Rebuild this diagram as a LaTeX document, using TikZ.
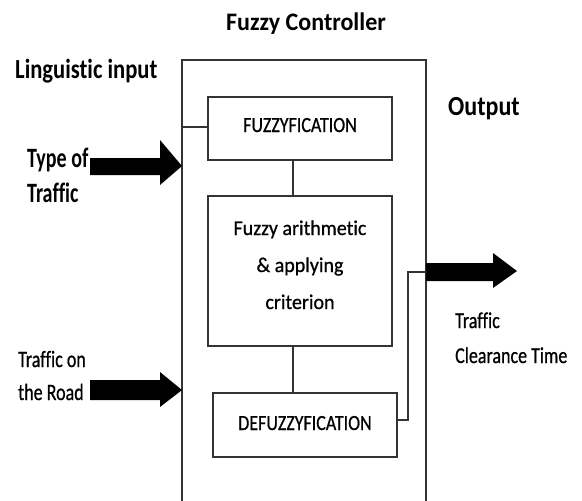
\documentclass[tikz,border=0pt]{standalone}
\usepackage{fontspec}
\setmainfont[RawFeature=-liga]{Carlito}
\newfontfamily\medf[RawFeature=-liga,FakeBold=0.8]{Carlito}
\newcommand{\vs}[2]{\scalebox{1}[#1]{#2}}
\begin{document}
\begin{tikzpicture}[x=1pt,y=-1pt,
  line/.style={draw=black!80,line width=1.8pt},
  blk/.style={draw=black!80,line width=1.8pt,fill=white},
  btitle/.style={font=\bfseries\fontsize{24}{28}\selectfont,inner sep=0pt},
  lbl/.style={font=\medf\fontsize{18}{20}\selectfont,inner sep=0pt},
  inlbl/.style={font=\bfseries\fontsize{20}{24}\selectfont,inner sep=0pt},
  boxtxt/.style={font=\medf\fontsize{18}{20}\selectfont,inner sep=0pt},
  artxt/.style={font=\medf\fontsize{20}{24}\selectfont,inner sep=0pt,anchor=base},
  arr/.style={fill=black}]
\useasboundingbox (0,0) rectangle (582,501);
% outer controller box (open at bottom)
\coordinate (oBL) at (182,501);
\coordinate (oTL) at (182,60);
\coordinate (oTR) at (426,60);
\coordinate (oBR) at (426,501);
\draw[line] (oBL) -- (oTL) -- (oTR) -- (oBR);
% inner blocks
\draw[blk] (208,97) rectangle (392,160);
\node[boxtxt,anchor=base] (fuz) at (300,132) {\vs{1.2}{FUZZYFICATION}};
\draw[blk] (208,196) rectangle (392,346);
\node[artxt] (ar1) at (300,235) {\vs{1.05}{Fuzzy arithmetic}};
\node[artxt] (ar2) at (300,272) {\vs{1.05}{\& applying}};
\node[artxt] (ar3) at (300,309) {\vs{1.05}{criterion}};
\draw[blk] (213,393) rectangle (397,457);
\node[boxtxt,anchor=base] (dfz) at (305,430) {\vs{1.2}{DEFUZZYFICATION}};
% connectors
\coordinate (fzW) at (208,127);
\coordinate (oL1) at (182,127);
\draw[line] (oL1) -- (fzW);
\coordinate (fzS) at (293,160);
\coordinate (arN) at (293,196);
\draw[line] (fzS) -- (arN);
\coordinate (arS) at (293,346);
\coordinate (dfN) at (293,393);
\draw[line] (arS) -- (dfN);
\coordinate (dfE) at (397,420);
\coordinate (oR1) at (426,272);
\draw[line,line width=1.4pt] (dfE) -- (408,420) -- (408,272) -- (oR1);
% block arrows
\fill[arr] (90,158) -- (160,158) -- (160,140) -- (182,166) -- (160,185) -- (160,175) -- (90,175) -- cycle;
\fill[arr] (90,380) -- (160,380) -- (160,372) -- (182,390) -- (160,407) -- (160,400) -- (90,400) -- cycle;
\fill[arr] (426,263) -- (493,263) -- (493,253) -- (517,271) -- (493,288) -- (493,281) -- (426,281) -- cycle;
% texts
\node[btitle,anchor=base] (title) at (306,30) {\vs{1.05}{Fuzzy Controller}};
\node[font=\bfseries\fontsize{22.6}{26}\selectfont,inner sep=0pt,anchor=base west] (ling) at (15,78) {\vs{1.22}{Linguistic input}};
\node[btitle,anchor=base west] (out) at (448,115) {\vs{1.15}{Output}};
\node[inlbl,anchor=base west] (in1a) at (27,167) {\vs{1.4}{Type of}};
\node[inlbl,anchor=base west] (in1b) at (27,202) {\vs{1.4}{Traffic}};
\node[lbl,anchor=base west] (in2a) at (18,367) {\vs{1.3}{Traffic on}};
\node[lbl,anchor=base west] (in2b) at (18,400) {\vs{1.3}{the Road}};
\node[lbl,anchor=base west] (o1) at (455,328) {\vs{1.26}{Traffic}};
\node[lbl,anchor=base west] (o2) at (455,363) {\vs{1.26}{Clearance Time}};
\end{tikzpicture}
\end{document}
